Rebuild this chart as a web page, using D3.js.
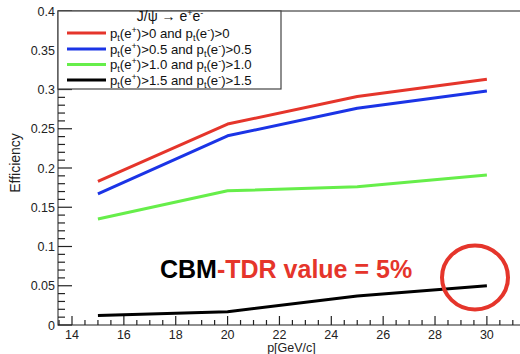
<!DOCTYPE html>
<html>
<head>
<meta charset="utf-8">
<script src="https://cdn.jsdelivr.net/npm/d3@7"></script>
<style>
  html, body { margin: 0; padding: 0; background: #fff; }
  svg { display: block; font-family: "Liberation Sans", Arial, Helvetica, sans-serif; }
</style>
</head>
<body>
<svg id="chart" width="520" height="354"></svg>
<script>
// J/psi -> e+e- reconstruction efficiency vs momentum, for four pt cuts
const momenta = [15, 20, 25, 30];
const effPt0   = [0.183, 0.256, 0.291, 0.313];
const effPt05  = [0.167, 0.241, 0.276, 0.298];
const effPt10  = [0.135, 0.171, 0.176, 0.191];
const effPt15  = [0.012, 0.017, 0.037, 0.050];
const seriesNames = ["0", "0.5", "1.0", "1.5"];
const seriesColors = ["#e5352b", "#1b34e6", "#66ee4a", "#000000"];
const xTicks = [14, 16, 18, 20, 22, 24, 26, 28, 30];
const yTicks = [0, 0.05, 0.1, 0.15, 0.2, 0.25, 0.3, 0.35, 0.4];

const series = [effPt0, effPt05, effPt10, effPt15];

const svg = d3.select("#chart");
const plotLeft = 58, plotTop = 11, plotBottom = 325, plotRight = 525;

const x = d3.scaleLinear().domain([13.46, 31.47]).range([plotLeft, plotRight]);
const y = d3.scaleLinear().domain([0, 0.4]).range([plotBottom, plotTop]);

const frameColor = "#444";
const labelSize = 12.5;

// frame
svg.append("rect")
  .attr("x", plotLeft).attr("y", plotTop)
  .attr("width", plotRight - plotLeft).attr("height", plotBottom - plotTop)
  .attr("fill", "none").attr("stroke", frameColor).attr("stroke-width", 1.2);

// y axis ticks (inside the frame)
const yMinor = d3.range(0, 0.4001, 0.01);
const isMajorY = d => Math.abs(d / 0.05 - Math.round(d / 0.05)) < 1e-6;
svg.append("g").selectAll("line").data(yMinor).join("line")
  .attr("x1", plotLeft).attr("x2", d => plotLeft + (isMajorY(d) ? 14 : 7))
  .attr("y1", d => y(d)).attr("y2", d => y(d))
  .attr("stroke", "#222").attr("stroke-width", 1.2);

svg.append("g").selectAll("text").data(yTicks).join("text")
  .attr("x", 55).attr("y", d => y(d) + 4.5)
  .attr("text-anchor", "end").attr("font-size", labelSize).attr("fill", "#222")
  .text(d => d === 0 ? "0" : String(d));

// x axis ticks (inside the frame)
const xMinor = d3.range(13.5, 31.51, 0.5);
svg.append("g").selectAll("line").data(xMinor).join("line")
  .attr("x1", d => x(d)).attr("x2", d => x(d))
  .attr("y1", plotBottom).attr("y2", d => plotBottom - (d % 2 === 0 ? 9 : 5))
  .attr("stroke", "#222").attr("stroke-width", 1.2);

svg.append("g").selectAll("text").data(xTicks).join("text")
  .attr("x", d => x(d)).attr("y", 339)
  .attr("text-anchor", "middle").attr("font-size", labelSize).attr("fill", "#222")
  .text(d => d);

// axis titles
svg.append("text")
  .attr("x", (plotLeft + plotRight) / 2).attr("y", 351.5)
  .attr("text-anchor", "middle").attr("font-size", labelSize).attr("fill", "#222")
  .text("p[GeV/c]");

svg.append("text")
  .attr("transform", "translate(19.5,163) rotate(-90)")
  .attr("text-anchor", "middle").attr("font-size", 14).attr("fill", "#222")
  .text("Efficiency");

// efficiency curves
const line = d3.line().x((d, i) => x(momenta[i])).y(d => y(d));
svg.append("g").selectAll("path").data(series).join("path")
  .attr("d", d => line(d))
  .attr("fill", "none")
  .attr("stroke", (d, i) => seriesColors[i])
  .attr("stroke-width", 3)
  .attr("stroke-linejoin", "round");

// legend
const legend = svg.append("g");
legend.append("rect")
  .attr("x", plotLeft).attr("y", plotTop).attr("width", 281 - plotLeft).attr("height", 89 - plotTop)
  .attr("fill", "#fff").attr("stroke", frameColor).attr("stroke-width", 1.2);

const header = legend.append("text")
  .attr("x", 170).attr("y", 20.5).attr("text-anchor", "middle")
  .attr("font-size", 14).attr("fill", "#111");
header.append("tspan").text("J/\u03C8 \u2192 e");
header.append("tspan").attr("dy", -5).attr("font-size", 9).text("+");
header.append("tspan").attr("dy", 5).text("e");
header.append("tspan").attr("dy", -5).attr("font-size", 9).text("-");

const rowY = [33, 49, 64.5, 80];
seriesNames.forEach((name, i) => {
  legend.append("line")
    .attr("x1", 67).attr("x2", 106)
    .attr("y1", rowY[i]).attr("y2", rowY[i])
    .attr("stroke", seriesColors[i]).attr("stroke-width", 3);
  const t = legend.append("text")
    .attr("x", 110).attr("y", rowY[i] + 4.5)
    .attr("font-size", 13.2).attr("fill", "#111");
  t.append("tspan").text("p");
  t.append("tspan").attr("dy", 3).attr("font-size", 9).text("t");
  t.append("tspan").attr("dy", -3).text("(e");
  t.append("tspan").attr("dy", -5).attr("font-size", 9).text("+");
  t.append("tspan").attr("dy", 5).text(`)>${name} and p`);
  t.append("tspan").attr("dy", 3).attr("font-size", 9).text("t");
  t.append("tspan").attr("dy", -3).text("(e");
  t.append("tspan").attr("dy", -5).attr("font-size", 9).text("-");
  t.append("tspan").attr("dy", 5).text(`)>${name}`);
});

// annotation
const note = svg.append("text")
  .attr("x", 160).attr("y", 278)
  .attr("font-size", 25).attr("font-weight", "bold");
note.append("tspan").attr("fill", "#000").text("CBM");
note.append("tspan").attr("fill", "#e5352b").text("-TDR value = 5%");

svg.append("ellipse")
  .attr("cx", 475).attr("cy", 277.5).attr("rx", 33).attr("ry", 32)
  .attr("fill", "none").attr("stroke", "#e5352b").attr("stroke-width", 4);
</script>
</body>
</html>
